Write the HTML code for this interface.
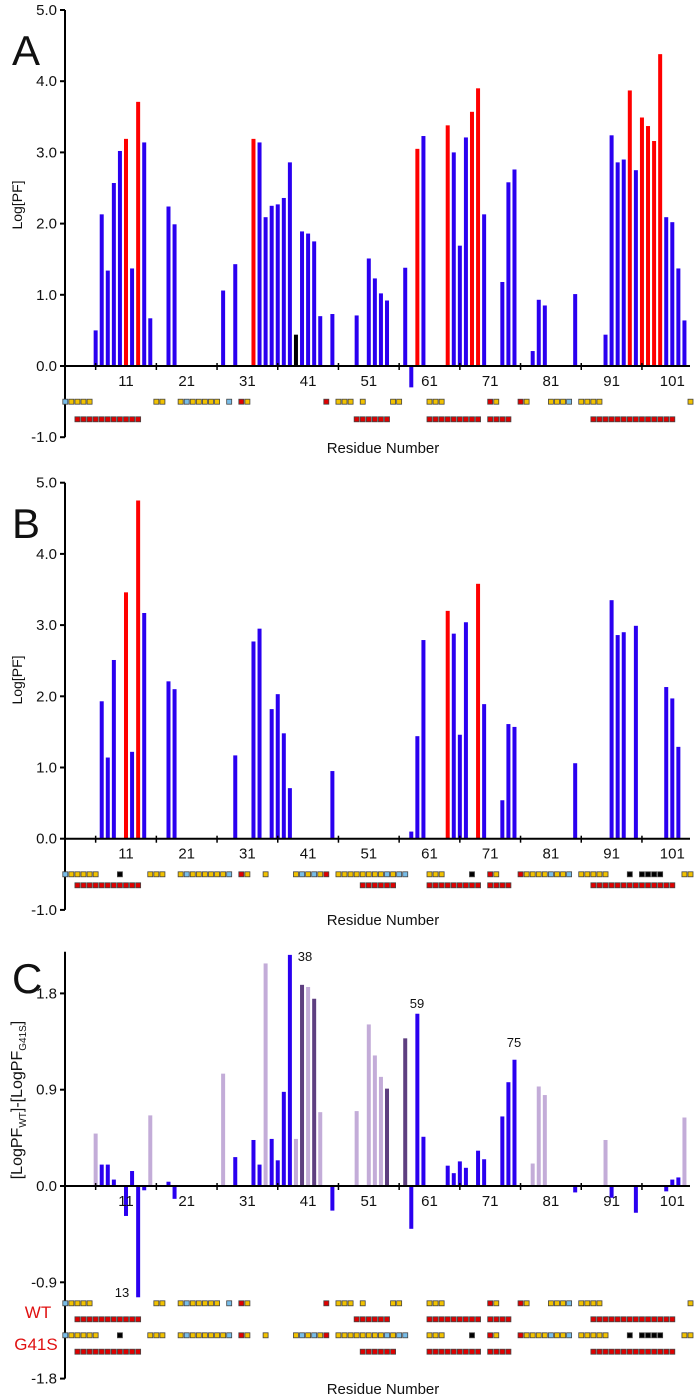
<!DOCTYPE html>
<html><head><meta charset="utf-8"><style>
html,body{margin:0;padding:0;background:#fff;}
svg{display:block;font-family:"Liberation Sans",Arial,sans-serif;}
</style></head><body>
<svg id="chart" width="700" height="1399" viewBox="0 0 700 1399" xmlns="http://www.w3.org/2000/svg"></svg>
<script>
// ---- Panel A data (WT) ----
const aRes = [6,7,8,9,10,11,12,13,14,15,18,19,27,29,32,33,34,35,36,37,38,39,40,41,42,43,45,49,51,52,53,54,57,58,59,60,64,65,66,67,68,69,70,73,74,75,78,79,80,85,90,91,92,93,94,95,96,97,98,99,100,101,102,103];
const aVal = [0.50,2.13,1.34,2.57,3.02,3.19,1.37,3.71,3.14,0.67,2.24,1.99,1.06,1.43,3.19,3.14,2.09,2.25,2.27,2.36,2.86,0.44,1.89,1.86,1.75,0.70,0.73,0.71,1.51,1.23,1.02,0.92,1.38,-0.30,3.05,3.23,3.38,3.00,1.69,3.21,3.57,3.90,2.13,1.18,2.58,2.76,0.21,0.93,0.85,1.01,0.44,3.24,2.86,2.90,3.87,2.75,3.49,3.37,3.16,4.38,2.09,2.02,1.37,0.64];
const aRed = [11,13,32,59,64,68,69,94,96,97,98,99];
const aBlack = [39];
// ---- Panel B data (G41S) ----
const bRes = [7,8,9,11,12,13,14,18,19,29,32,33,35,36,37,38,45,58,59,60,64,65,66,67,69,70,73,74,75,85,91,92,93,95,100,101,102];
const bVal = [1.93,1.14,2.51,3.46,1.22,4.75,3.17,2.21,2.10,1.17,2.77,2.95,1.82,2.03,1.48,0.71,0.95,0.10,1.44,2.79,3.20,2.88,1.46,3.04,3.58,1.89,0.54,1.61,1.57,1.06,3.35,2.86,2.90,2.99,2.13,1.97,1.29];
const bRed = [11,13,64,69];
// ---- Panel C data (difference) ----
const cRes = [6,7,8,9,11,12,13,14,15,18,19,27,29,32,33,34,35,36,37,38,39,40,41,42,43,45,49,51,52,53,54,57,58,59,60,64,65,66,67,69,70,73,74,75,78,79,80,85,90,91,95,100,101,102,103];
const cVal = [0.49,0.20,0.20,0.06,-0.28,0.14,-1.04,-0.04,0.66,0.04,-0.12,1.05,0.27,0.43,0.20,2.08,0.44,0.24,0.88,2.16,0.44,1.88,1.86,1.75,0.69,-0.23,0.70,1.51,1.22,1.02,0.91,1.38,-0.40,1.61,0.46,0.19,0.12,0.23,0.17,0.33,0.25,0.65,0.97,1.18,0.21,0.93,0.85,-0.06,0.43,-0.11,-0.25,-0.05,0.06,0.08,0.64];
const cLight = [6,15,27,34,39,41,43,49,51,52,53,78,79,80,90,103];
const cDark = [40,42,54,57];
// ---- secondary structure tracks [start,end,code] ----
const ssWT1 = [[1,1,"c"],[2,5,"y"],[16,17,"y"],[20,20,"y"],[21,21,"c"],[22,26,"y"],[28,28,"c"],[30,30,"r"],[31,31,"y"],[44,44,"r"],[46,48,"y"],[50,50,"y"],[55,56,"y"],[61,63,"y"],[71,71,"r"],[72,72,"y"],[76,76,"r"],[77,77,"y"],[81,83,"y"],[84,84,"c"],[86,89,"y"],[104,104,"y"]];
const ssWT2 = [[3,13,"r"],[49,54,"r"],[61,69,"r"],[71,74,"r"],[88,101,"r"]];
const ssMu1 = [[1,1,"c"],[2,6,"y"],[10,10,"k"],[15,17,"y"],[20,20,"y"],[21,21,"c"],[22,27,"y"],[28,28,"c"],[30,30,"r"],[31,31,"y"],[34,34,"y"],[39,39,"y"],[40,40,"c"],[41,41,"y"],[42,42,"c"],[43,43,"y"],[44,44,"r"],[46,53,"y"],[54,54,"c"],[55,55,"y"],[56,57,"c"],[61,63,"y"],[68,68,"k"],[71,71,"r"],[72,72,"y"],[76,76,"r"],[77,80,"y"],[81,81,"c"],[82,83,"y"],[84,84,"c"],[86,90,"y"],[94,94,"k"],[96,99,"k"],[103,104,"y"]];
const ssMu2 = [[3,13,"r"],[50,55,"r"],[61,69,"r"],[71,74,"r"],[88,101,"r"]];

const NS="http://www.w3.org/2000/svg";
const svg=document.getElementById('chart');
const colors={b:"#2a00f0",r:"#ff0000",k:"#000000",l:"#c3acd8",d:"#5e3f80"};
const ssColors={y:"#f2c200",r:"#e00000",c:"#78bde8",k:"#000000"};
function xs(r){return 126+(r-11)*6.07;}
function mk(tag,attrs,parent){const e=document.createElementNS(NS,tag);for(const k in attrs)e.setAttribute(k,attrs[k]);(parent||svg).appendChild(e);return e;}
function txt(s,x,y,size,anchor,parent,fill){const t=mk('text',{x:x,y:y,'font-size':size,'text-anchor':anchor||'middle',fill:fill||'#111'},parent);t.textContent=s;return t;}

function panel(cfg){
  const g=mk('g',{});
  
  
  const ys=v=>cfg.y0-v*cfg.k;
  const L=txt(cfg.letter,12,cfg.letterY,42,'start',g,'#111');
  
  
  for(let i=0;i<cfg.res.length;i++){
    const v=cfg.val[i];
    const y=Math.min(ys(v),cfg.y0), h=Math.abs(ys(v)-cfg.y0);
    const b=mk('rect',{x:xs(cfg.res[i])-2,y:y,width:4,height:h,fill:colors[cfg.colorOf(cfg.res[i])]},g);
    
    
  }
  const ya=mk('line',{x1:65,y1:cfg.yTop,x2:65,y2:ys(cfg.yMin),stroke:'#000','stroke-width':2},g);
  
  
  cfg.ticks.forEach((t,i)=>{
    mk('line',{x1:60,y1:ys(t),x2:65,y2:ys(t),stroke:'#000','stroke-width':2},g);
    const tl=txt(cfg.tickLabels[i],57,ys(t)+5,15,'end',g);
    
    
  });
  const xa=mk('line',{x1:65,y1:cfg.y0,x2:690,y2:cfg.y0,stroke:'#000','stroke-width':2},g);
  
  
  for(let r=6;r<=96;r+=10) mk('line',{x1:xs(r),y1:cfg.y0-3,x2:xs(r),y2:cfg.y0+4,stroke:'#000','stroke-width':1.5},g);
  for(let r=11;r<=101;r+=10){
    const tl=txt(String(r),xs(r),cfg.y0+20,15,'middle',g);
    
    
  }
  cfg.tracks.forEach(tr=>{
    tr.data.forEach(seg=>{
      for(let r=seg[0];r<=seg[1];r++){
        const s=mk('rect',{x:xs(r)-2.5,y:tr.y-2.5,width:5,height:5,fill:ssColors[seg[2]],stroke:'#444','stroke-width':0.8},g);
        
        
      }
    });
  });
  const xt=txt('Residue Number',383,cfg.xTitleY,15,'middle',g);
  
  
  return {g,ys};
}

panel({name:'panel-a',letter:'A',letterY:65,res:aRes,val:aVal,
  colorOf:r=>aRed.includes(r)?'r':(aBlack.includes(r)?'k':'b'),
  y0:366,k:71.2,yTop:10,yMin:-1,
  ticks:[5,4,3,2,1,0,-1],tickLabels:['5.0','4.0','3.0','2.0','1.0','0.0','-1.0'],
  tracks:[{y:401.7,data:ssWT1},{y:419.3,data:ssWT2}],xTitleY:453});
panel({name:'panel-b',letter:'B',letterY:538,res:bRes,val:bVal,
  colorOf:r=>bRed.includes(r)?'r':'b',
  y0:838.7,k:71.2,yTop:482.7,yMin:-1,
  ticks:[5,4,3,2,1,0,-1],tickLabels:['5.0','4.0','3.0','2.0','1.0','0.0','-1.0'],
  tracks:[{y:874.3,data:ssMu1},{y:885.3,data:ssMu2}],xTitleY:925});
panel({name:'panel-c',letter:'C',letterY:993,res:cRes,val:cVal,
  colorOf:r=>cLight.includes(r)?'l':(cDark.includes(r)?'d':'b'),
  y0:1186,k:107,yTop:951.7,yMin:-1.8,
  ticks:[1.8,0.9,0,-0.9,-1.8],tickLabels:['1.8','0.9','0.0','-0.9','-1.8'],
  tracks:[{y:1303.3,data:ssWT1},{y:1319.3,data:ssWT2},{y:1335.3,data:ssMu1},{y:1351.7,data:ssMu2}],xTitleY:1394});

function ytitle(s,cy,name){const t=txt(s,0,0,14,'middle');t.setAttribute('transform','translate(22,'+cy+') rotate(-90)');return t;}
ytitle('Log[PF]',205,'y-axis-title-a');
ytitle('Log[PF]',680,'y-axis-title-b');
const ct=txt('',0,0,16,'middle');ct.setAttribute('transform','translate(22,1100) rotate(-90)');


ct.innerHTML='[LogPF<tspan font-size="10" dy="4">WT</tspan><tspan dy="-4">]-[LogPF</tspan><tspan font-size="10" dy="4">G41S</tspan><tspan dy="-4">]</tspan>';
[['38',305,961],['13',122,1297],['59',417,1008],['75',514,1047]].forEach(a=>{const t=txt(a[0],a[1],a[2],13,'middle');});
const wt=txt('WT',38,1318,17,'middle',svg,'#e01010');


const mu=txt('G41S',36,1350,17,'middle',svg,'#e01010');


</script>
</body></html>
